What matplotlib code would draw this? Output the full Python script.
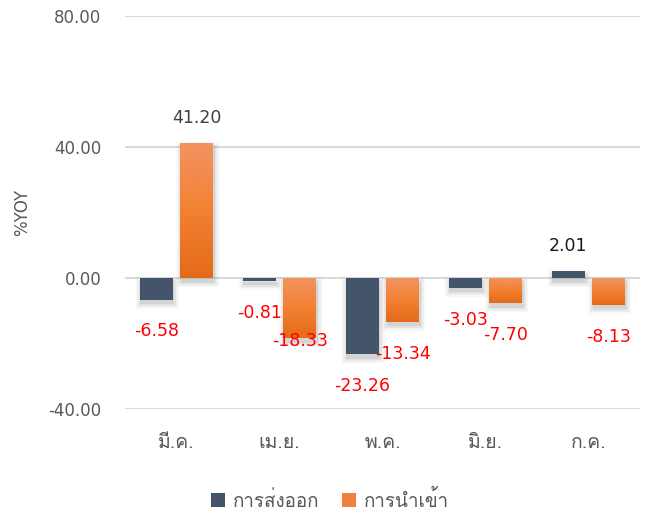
import numpy as np
import matplotlib
matplotlib.use("Agg")
import matplotlib.pyplot as plt
from matplotlib import font_manager, ft2font
from matplotlib.patches import Rectangle, Patch
from matplotlib.transforms import IdentityTransform
from matplotlib.colors import LinearSegmentedColormap

# ---- data ----
categories = ["มี.ค.", "เม.ย.", "พ.ค.", "มิ.ย.", "ก.ค."]
exports = [-6.58, -0.81, -23.26, -3.03, 2.01]
imports = [41.20, -18.33, -13.34, -7.70, -8.13]
series_names = ["การส่งออก", "การนำเข้า"]
yticks = [-40, 0, 40, 80]

# ---- find a Thai-capable font ----
thai_font = None
for f in font_manager.fontManager.ttflist:
    try:
        cm = ft2font.FT2Font(f.fname).get_charmap()
        if ord("ก") in cm and ord("ำ") in cm:
            thai_font = f.name
            break
    except Exception:
        pass
fams = ([thai_font] if thai_font else []) + ["DejaVu Sans"]

plt.rcParams["font.family"] = ["DejaVu Sans"]

fig = plt.figure(figsize=(6.49, 5.26), dpi=100)
ax = fig.add_axes([125 / 649, 1 - 409 / 526, (640 - 125) / 649, (409 - 16) / 526])
ax.set_xlim(-0.5, 4.5)
ax.set_ylim(-40, 80)

for s in ax.spines.values():
    s.set_visible(False)
ax.set_yticks(yticks)
ax.set_yticklabels([f"{v:.2f}" for v in yticks], color="#595959", fontsize=12)
ax.tick_params(axis="y", length=0, pad=17)
ax.tick_params(axis="x", length=0, pad=18)
ax.set_xticks(range(len(categories)))
ax.set_xticklabels(categories, family=fams, fontsize=14, color="#595959")
ax.grid(axis="y", color="#D9D9D9", linewidth=1.5, zorder=0)
ax.set_axisbelow(True)
ax.set_ylabel("%YOY", color="#595959", fontsize=12, labelpad=12)

x = np.arange(len(categories))
w = 0.32
off = 0.195
exp_color = "#44546A"
cmap = LinearSegmentedColormap.from_list("org", ["#F29461", "#F28132", "#E36A18"])


def shadow(xc, v):
    x0, y0 = ax.transData.transform((xc - w / 2, min(0, v)))
    x1, y1 = ax.transData.transform((xc + w / 2, max(0, v)))
    for k, a in [(5, 0.05), (3.5, 0.07), (2, 0.10), (0.5, 0.14)]:
        ax.add_patch(Rectangle((x0 - k + 1, y0 - k - 4), (x1 - x0) + 2 * k, (y1 - y0) + 2 * k,
                               transform=IdentityTransform(), facecolor="#7F7F7F",
                               edgecolor="none", alpha=a, zorder=2))


grad = np.linspace(0, 1, 256).reshape(-1, 1)
for i in range(len(categories)):
    xe = x[i] - off
    xi = x[i] + off
    shadow(xe, exports[i])
    shadow(xi, imports[i])
    ax.bar(xe, exports[i], w, color=exp_color, zorder=3)
    b = ax.bar(xi, imports[i], w, color="#F08030", zorder=3)[0]
    lo, hi = min(0, imports[i]), max(0, imports[i])
    im = ax.imshow(grad, cmap=cmap, extent=[xi - w / 2, xi + w / 2, lo, hi],
                   aspect="auto", origin="upper", zorder=4)
    im.set_clip_path(b)

ax.set_xlim(-0.5, 4.5)
ax.set_ylim(-40, 80)

# ---- data labels ----
def label(xc, v, special=False):
    if v >= 0:
        col = "#404040" if v > 10 else "#1A1A1A"
        ax.annotate(f"{v:.2f}", (xc, v), xytext=(0, 18), textcoords="offset points",
                    ha="center", va="center", fontsize=12.5, color=col, zorder=6)
    else:
        dy = -2 if special else -23
        ax.annotate(f"{v:.2f}", (xc, v), xytext=(0, dy), textcoords="offset points",
                    ha="center", va="center", fontsize=12.5, color="#FF0000", zorder=6)


for i in range(len(categories)):
    label(x[i] - off, exports[i])
    label(x[i] + off, imports[i], special=(i == 1))

handles = [Patch(facecolor=exp_color), Patch(facecolor="#EF8040")]
fig.legend(handles, series_names, loc="center", bbox_to_anchor=(330 / 649, 1 - 500 / 526),
           ncol=2, frameon=False, prop={"family": fams, "size": 13.5},
           handlelength=0.75, handleheight=0.75, handletextpad=0.4, columnspacing=1.2,
           labelcolor="#595959")

fig.savefig("out.png", dpi=100)
